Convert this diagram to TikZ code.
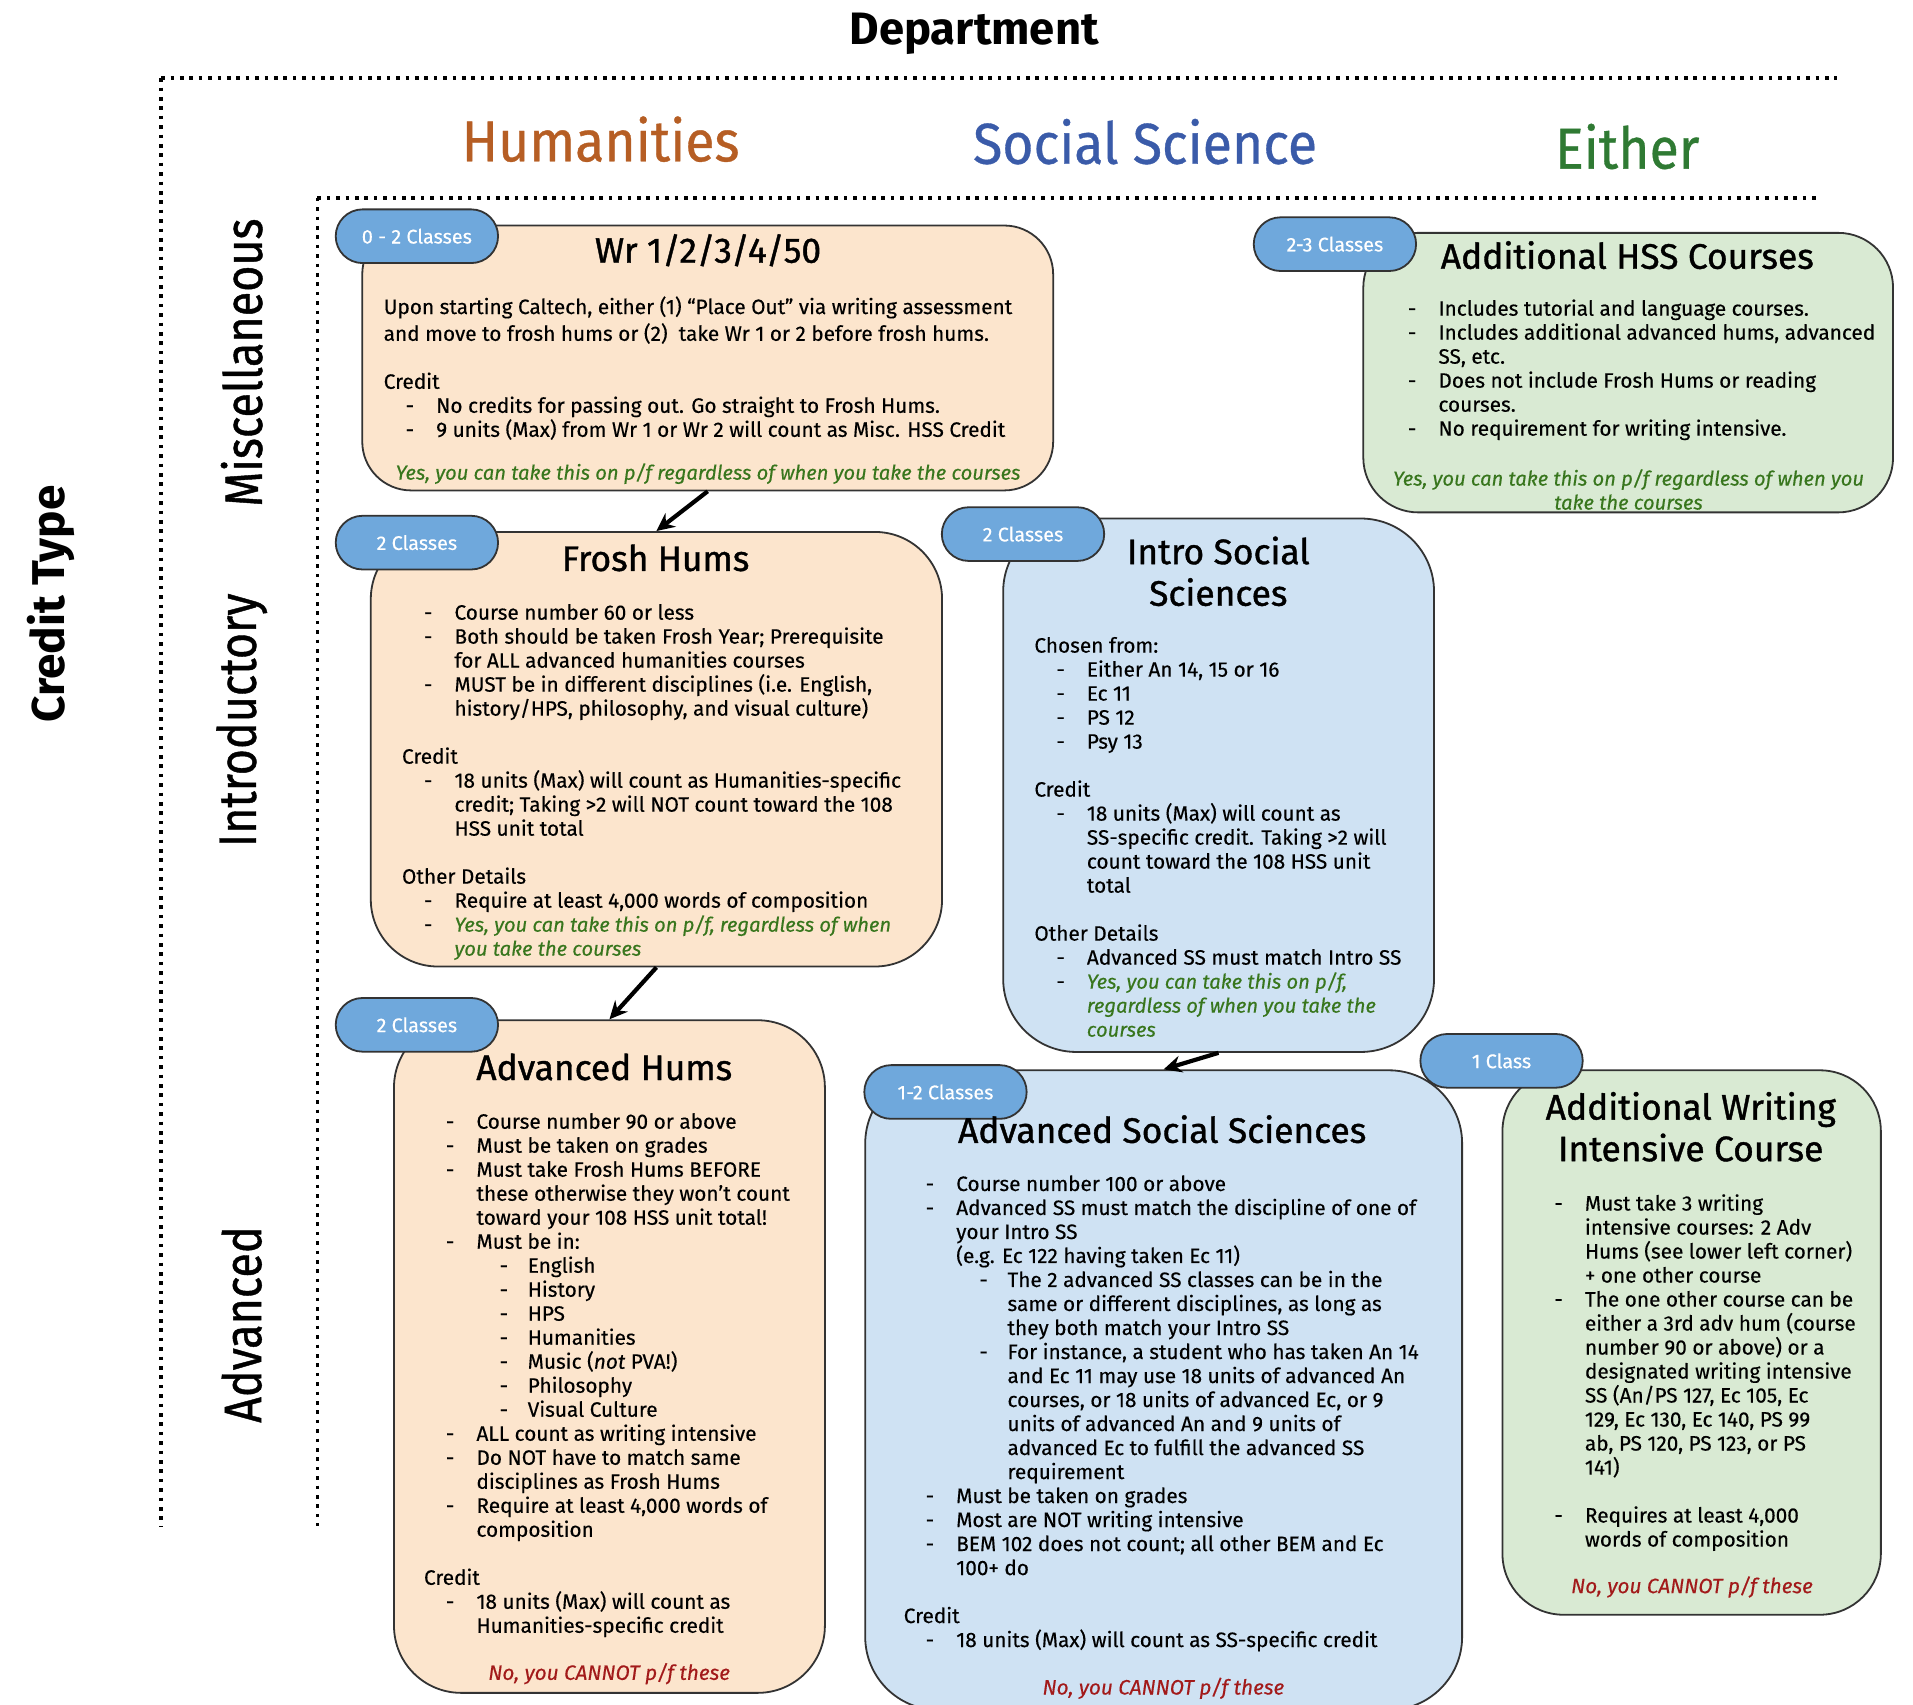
\documentclass[tikz,border=0pt]{standalone}
\usepackage{fontspec}
\setmainfont[FakeBold=0.35]{Fira Sans}
\newfontfamily\plainfont{Fira Sans}
\newfontfamily\ttlfont[FakeBold=1.1]{Fira Sans}
\newfontfamily\condfont[FakeStretch=0.93,FakeBold=0.6]{Fira Sans}
\newfontfamily\axfont[FakeStretch=0.85,FakeBold=0.8]{Fira Sans}
\usetikzlibrary{arrows.meta}
\newlength\pxu \setlength\pxu{0.6103pt}
\definecolor{peach}{HTML}{FCE5CD}
\definecolor{lblue}{HTML}{CFE2F3}
\definecolor{lgreen}{HTML}{D9EAD3}
\definecolor{badgec}{HTML}{6FA8DC}
\definecolor{edgec}{HTML}{333333}
\definecolor{tgreen}{HTML}{38761D}
\definecolor{tred}{HTML}{A21A1A}
\definecolor{humc}{HTML}{B65E24}
\definecolor{ssc}{HTML}{3A5BA9}
\definecolor{eic}{HTML}{2F7A33}
\newcommand\Dsh{\hspace*{18\pxu}\makebox[25\pxu][l]{-}}
\newcommand\Cnt{\hspace*{43\pxu}}
\newcommand\SDsh{\hspace*{62\pxu}\makebox[23\pxu][l]{-}}
\newcommand\SCnt{\hspace*{85\pxu}}
\newcommand\grn[1]{{\fontsize{10.1}{12}\selectfont\textcolor{tgreen}{\itshape #1}}}
\tikzset{
  crbox/.style={draw=edgec, line width=0.9pt, rounded corners=#1, anchor=north west, inner sep=0pt},
  crbox/.default=50\pxu,
  badge/.style={draw=edgec, line width=0.9pt, fill=badgec, rounded corners=22\pxu, minimum width=133\pxu, minimum height=44\pxu, inner sep=0pt, text=white, font=\fontsize{9.9}{12}\selectfont},
  body/.style={anchor=north west, align=left, inner sep=0pt, font=\fontsize{10.4}{12}\selectfont},
  ttl/.style={font=\ttlfont\fontsize{17.7}{20.8}\selectfont, align=center, inner sep=0pt},
  note/.style={font=\fontsize{10.1}{12}\selectfont\itshape, align=center, inner sep=0pt},
  rnote/.style={font=\fontsize{10.4}{12}\selectfont\itshape, align=center, inner sep=0pt, text=tred},
  hdr/.style={font=\condfont\fontsize{28.8}{32}\selectfont, inner sep=0pt},
  axl/.style={font=\axfont\fontsize{26.4}{30}\selectfont, rotate=90, inner sep=0pt},
  dotline/.style={line width=1.8pt, dash pattern=on 1.8pt off 2.9pt},
  arr/.style={-{Stealth[length=9pt,width=8.5pt,inset=3pt]}, line width=2.1pt}
}
\begin{document}
\begin{tikzpicture}[x=0.6131pt,y=-0.6131pt]
\path[use as bounding box, fill=white] (0,0) rectangle (1560,1389.6);
\begin{scope}[scale=0.9955]
% headers
\node[font=\plainfont\bfseries\fontsize{22.7}{26}\selectfont, inner sep=0pt] (dept) at (798,28) {Department};
\node[hdr, text=humc] (hum) at (492,114) {Humanities};
\node[hdr, text=ssc] (ss) at (938,116) {Social Science};
\node[hdr, text=eic] (ei) at (1333,120) {Either};
\node[font=\plainfont\bfseries\fontsize{23}{26}\selectfont, rotate=90, inner sep=0pt] (ctype) at (42,495) {Credit Type};
\node[axl] (misc) at (198,297) {Miscellaneous};
\node[axl] (intro) at (198,590) {Introductory};
\node[axl] (adv) at (198,1085) {Advanced};
% dotted lines
\draw[dotline] (132,64) -- (1505,64);
\draw[dotline] (132,64) -- (132,1250);
\draw[dotline] (260,162) -- (1490,162);
\draw[dotline] (260,162) -- (260,1250);
% boxes
\node[crbox=40\pxu, fill=peach, minimum width=566\pxu, minimum height=217\pxu] (wr) at (296,184) {};
\node[crbox=45\pxu, fill=lgreen, minimum width=434\pxu, minimum height=229\pxu] (addhss) at (1116,190) {};
\node[crbox=55\pxu, fill=peach, minimum width=468\pxu, minimum height=356\pxu] (frosh) at (303,435) {};
\node[crbox=60\pxu, fill=lblue, minimum width=353\pxu, minimum height=437\pxu] (intross) at (821,424) {};
\node[crbox=55\pxu, fill=peach, minimum width=353\pxu, minimum height=551\pxu] (advh) at (322,835) {};
\node[crbox=60\pxu, fill=lblue, minimum width=489\pxu, minimum height=524\pxu] (advss) at (708,876) {};
\node[crbox=50\pxu, fill=lgreen, minimum width=310\pxu, minimum height=446\pxu] (addw) at (1230,876) {};
% badges
\node[badge] (b1) at (341.5,193.5) {0 - 2 Classes};
\node[badge] (b2) at (1093.5,200) {2-3 Classes};
\node[badge] (b3) at (341.5,444.5) {2 Classes};
\node[badge] (b4) at (838,437.5) {2 Classes};
\node[badge] (b5) at (341.5,839.5) {2 Classes};
\node[badge] (b6) at (774.5,894.5) {1-2 Classes};
\node[badge] (b7) at (1230,869) {1 Class};
% titles
\node[ttl] (t1) at (580,205) {Wr 1/2/3/4/50};
\node[ttl] (t2) at (1333,209) {Additional HSS Courses};
\node[ttl] (t3) at (537,457) {Frosh Hums};
\node[ttl] (t4) at (998,468) {Intro Social\\Sciences};
\node[ttl] (t5) at (495,874) {Advanced Hums};
\node[ttl] (t6) at (952,925) {Advanced Social Sciences};
\node[ttl] (t7) at (1385,923) {Additional Writing\\Intensive Course};
% body texts
\node[body] (x1) at (314,242.5) {\strut Upon starting Caltech, either (1) “Place Out” via writing assessment\\
and move to frosh hums or (2)\ \ take Wr 1 or 2 before frosh hums.\\[12pt]
Credit\\
\Dsh No credits for passing out. Go straight to Frosh Hums.\\
\Dsh 9 units (Max) from Wr 1 or Wr 2 will count as Misc. HSS Credit};
\node[note, text=tgreen] (n1) at (580,388) {Yes, you can take this on p/f regardless of when you take the courses};
\node[body] (x2) at (1135,244.5) {\strut\Dsh Includes tutorial and language courses.\\
\Dsh Includes additional advanced hums, advanced\\
\Cnt SS, etc.\\
\Dsh Does not include Frosh Hums or reading\\
\Cnt courses.\\
\Dsh No requirement for writing intensive.};
\node[note, text=tgreen] (n2) at (1334,401) {Yes, you can take this on p/f regardless of when you\\take the courses};
\node[body] (x3) at (329,493.5) {\strut\Dsh Course number 60 or less\\
\Dsh Both should be taken Frosh Year; Prerequisite\\
\Cnt for ALL advanced humanities courses\\
\Dsh MUST be in different disciplines (i.e. English,\\
\Cnt history/HPS, philosophy, and visual culture)\\[12pt]
Credit\\
\Dsh 18 units (Max) will count as Humanities-specific\\
\Cnt credit; Taking >2 will NOT count toward the 108\\
\Cnt HSS unit total\\[12pt]
Other Details\\
\Dsh Require at least 4,000 words of composition\\
\Dsh \grn{Yes, you can take this on p/f, regardless of when}\\
\Cnt \grn{you take the courses}};
\node[body] (x4) at (847,520.5) {\strut Chosen from:\\
\Dsh Either An 14, 15 or 16\\
\Dsh Ec 11\\
\Dsh PS 12\\
\Dsh Psy 13\\[12pt]
Credit\\
\Dsh 18 units (Max) will count as\\
\Cnt SS-specific credit. Taking >2 will\\
\Cnt count toward the 108 HSS unit\\
\Cnt total\\[12pt]
Other Details\\
\Dsh Advanced SS must match Intro SS\\
\Dsh \grn{Yes, you can take this on p/f,}\\
\Cnt \grn{regardless of when you take the}\\
\Cnt \grn{courses}};
\node[body] (x5) at (347,910.5) {\strut\Dsh Course number 90 or above\\
\Dsh Must be taken on grades\\
\Dsh Must take Frosh Hums BEFORE\\
\Cnt these otherwise they won’t count\\
\Cnt toward your 108 HSS unit total!\\
\Dsh Must be in:\\
\SDsh English\\
\SDsh History\\
\SDsh HPS\\
\SDsh Humanities\\
\SDsh Music (\textit{not} PVA!)\\
\SDsh Philosophy\\
\SDsh Visual Culture\\
\Dsh ALL count as writing intensive\\
\Dsh Do NOT have to match same\\
\Cnt disciplines as Frosh Hums\\
\Dsh Require at least 4,000 words of\\
\Cnt composition\\[12pt]
Credit\\
\Dsh 18 units (Max) will count as\\
\Cnt Humanities-specific credit};
\node[rnote] (n5) at (499,1371) {No, you CANNOT p/f these};
\node[body] (x6) at (740,961.5) {\strut\Dsh Course number 100 or above\\
\Dsh Advanced SS must match the discipline of one of\\
\Cnt your Intro SS\\
\Cnt (e.g. Ec 122 having taken Ec 11)\\
\SDsh The 2 advanced SS classes can be in the\\
\SCnt same or different disciplines, as long as\\
\SCnt they both match your Intro SS\\
\SDsh For instance, a student who has taken An 14\\
\SCnt and Ec 11 may use 18 units of advanced An\\
\SCnt courses, or 18 units of advanced Ec, or 9\\
\SCnt units of advanced An and 9 units of\\
\SCnt advanced Ec to fulfill the advanced SS\\
\SCnt requirement\\
\Dsh Must be taken on grades\\
\Dsh Most are NOT writing intensive\\
\Dsh BEM 102 does not count; all other BEM and Ec\\
\Cnt 100+ do\\[12pt]
Credit\\
\Dsh 18 units (Max) will count as SS-specific credit};
\node[rnote] (n6) at (953,1383) {No, you CANNOT p/f these};
\node[body] (x7) at (1255,977.5) {\strut\Dsh Must take 3 writing\\
\Cnt intensive courses: 2 Adv\\
\Cnt Hums (see lower left corner)\\
\Cnt + one other course\\
\Dsh The one other course can be\\
\Cnt either a 3rd adv hum (course\\
\Cnt number 90 or above) or a\\
\Cnt designated writing intensive\\
\Cnt SS (An/PS 127, Ec 105, Ec\\
\Cnt 129, Ec 130, Ec 140, PS 99\\
\Cnt ab, PS 120, PS 123, or PS\\
\Cnt 141)\\[12pt]
\Dsh Requires at least 4,000\\
\Cnt words of composition};
\node[rnote] (n7) at (1386,1300) {No, you CANNOT p/f these};
% arrows
\draw[arr] (wr.south) -- (frosh.north);
\draw[arr] (frosh.south) -- (advh.north);
\draw[arr] (intross.south) -- (advss.north);
\end{scope}
\end{tikzpicture}
\end{document}
